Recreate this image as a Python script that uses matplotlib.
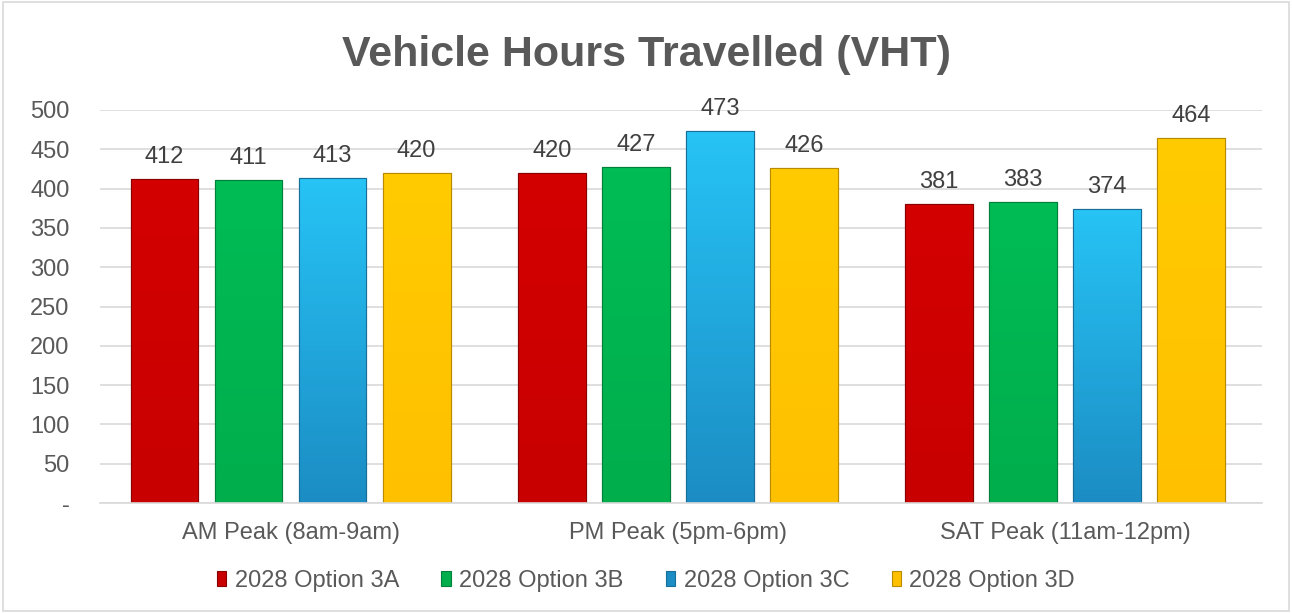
import numpy as np
import matplotlib.pyplot as plt
from matplotlib.colors import LinearSegmentedColormap
from matplotlib.patches import Rectangle
from matplotlib.ticker import FuncFormatter

plt.rcParams['font.family'] = ['Liberation Sans', 'DejaVu Sans']

periods = ["AM Peak (8am-9am)", "PM Peak (5pm-6pm)", "SAT Peak (11am-12pm)"]
options = ["2028 Option 3A", "2028 Option 3B", "2028 Option 3C", "2028 Option 3D"]
vht_3a = [412, 420, 381]
vht_3b = [411, 427, 383]
vht_3c = [413, 473, 374]
vht_3d = [420, 426, 464]
yticks = [0, 50, 100, 150, 200, 250, 300, 350, 400, 450, 500]

series = [vht_3a, vht_3b, vht_3c, vht_3d]
# (top colour, bottom colour, edge)
colors = [("#D40000", "#C80000", "#8A0000"),
          ("#00BC55", "#00AE4C", "#00803A"),
          ("#27C3F5", "#1B8DC4", "#166E99"),
          ("#FFCB00", "#FFC000", "#B88A00")]
txt = "#595959"

fig = plt.figure(figsize=(12.92, 6.13), dpi=100)
ax = fig.add_axes([0.0774, 0.1794, 0.8994, 0.6412])

x = np.arange(len(periods))
width = 0.175
step = 0.217
for i, vals in enumerate(series):
    off = (i - 1.5) * step
    top, bot, edge = colors[i]
    cmap = LinearSegmentedColormap.from_list("g", [bot, top])
    bars = ax.bar(x + off, vals, width, color=bot, edgecolor=edge, linewidth=0.8,
                  label=options[i], zorder=2)
    for b, v in zip(bars, vals):
        x0 = b.get_x()
        grad = np.linspace(0, 1, 64).reshape(-1, 1)
        im = ax.imshow(grad, extent=(x0, x0 + width, 0, v), origin="lower",
                       cmap=cmap, aspect="auto", zorder=2.1)
        im.set_clip_path(b)
        ax.add_patch(Rectangle((x0, 0), width, v, fill=False, edgecolor=edge,
                               linewidth=0.8, zorder=2.2))
        ax.annotate(str(v), (x0 + width / 2, v), xytext=(0, 11.5),
                    textcoords="offset points", ha="center", va="baseline",
                    fontsize=17, color="#404040", zorder=3, annotation_clip=False)

ax.set_xlim(-0.492, 2.508)
ax.set_ylim(0, 500)
ax.set_yticks(yticks)
ax.yaxis.set_major_formatter(FuncFormatter(lambda v, p: "-" if v == 0 else f"{int(v)}"))
ax.set_xticks(x)
ax.set_xticklabels(periods)
ax.tick_params(axis="both", length=0, colors=txt)
ax.tick_params(axis="x", pad=14, labelsize=17)
ax.tick_params(axis="y", pad=22, labelsize=17)
ax.grid(axis="y", color="#D9D9D9", linewidth=1.2, zorder=0)
ax.set_axisbelow(True)
for s in ["top", "right", "left"]:
    ax.spines[s].set_visible(False)
ax.spines["bottom"].set_color("#D9D9D9")
ax.spines["bottom"].set_linewidth(1.2)

fig.text(0.5, 0.911, "Vehicle Hours Travelled (VHT)", ha="center", va="center",
         fontsize=31, fontweight="bold", color=txt)

handles = [Rectangle((0, 0), 1, 1, facecolor=c[1], edgecolor=c[2], linewidth=0.8) for c in colors]
fig.legend(handles, options, loc="center", bbox_to_anchor=(0.5, 0.052), ncol=4,
           frameon=False, fontsize=17, handlelength=0.4, handleheight=0.6,
           handletextpad=0.35, columnspacing=1.8, labelcolor=txt)

fig.patches.append(Rectangle((0.002, 0.003), 0.996, 0.994, transform=fig.transFigure,
                             fill=False, edgecolor="#D9D9D9", linewidth=1.2))

fig.savefig("out.png", dpi=100)
